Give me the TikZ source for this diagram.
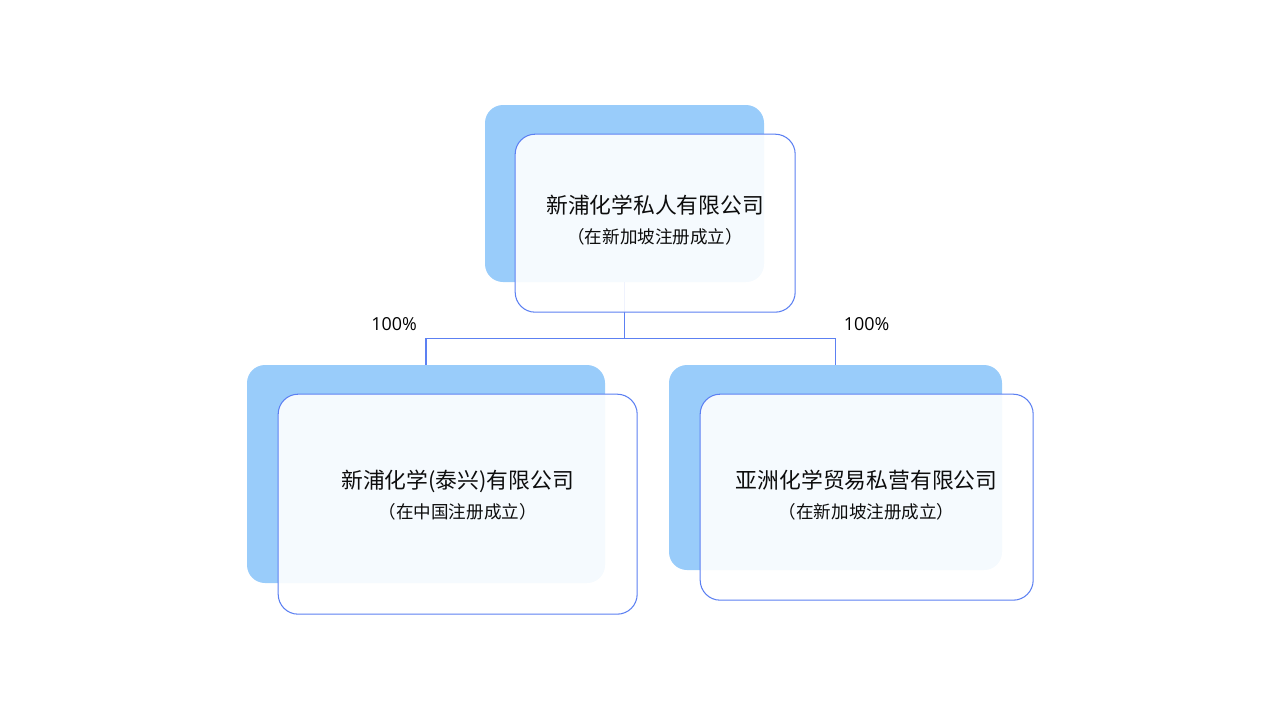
\documentclass[tikz,border=0pt]{standalone}
\usepackage{fontspec}
\setmainfont{Noto Sans CJK SC}
\newfontfamily\pctfont{Open Sans}
\usetikzlibrary{positioning, calc}
\definecolor{backblue}{HTML}{99CCFA}
\definecolor{lineblue}{HTML}{5C80F2}
\newcommand{\regfont}{\fontsize{10}{12}\selectfont}

\begin{document}
\begin{tikzpicture}[
    % Define styles
    backbox/.style={rectangle, fill=backblue, rounded corners=0.36cm},
    frontbox/.style={rectangle, draw=lineblue, line width=0.6pt, fill=white, fill opacity=0.9, rounded corners=0.4cm, anchor=north west},
    cname/.style={align=center, text=black!95, font=\fontsize{12.4}{17}\selectfont},
    link/.style={draw=lineblue, line width=0.6pt},
    pct/.style={text=black, font=\pctfont\fontsize{10.2}{12}\selectfont}
  ]
  \useasboundingbox (0,0) rectangle (25.6,-14.4);

  % Parent company
  \node[backbox, minimum width=5.58cm, minimum height=3.54cm] (topb) at (12.49,-3.87) {};

  % Subsidiaries
  \node[backbox, minimum width=7.16cm, minimum height=4.36cm] (leftb) at (8.52,-9.48) {};
  \node[backbox, minimum width=6.66cm, minimum height=4.1cm] (rightb) at (16.71,-9.35) {};

  % Ownership lines
  \coordinate (jn) at ($(topb.south)+(0,-1.12)$);
  \draw[link] (topb.south) -- (jn) -| (leftb.north);
  \draw[link] (jn) -| (rightb.north);
  \coordinate (jl) at (leftb.north |- jn);
  \coordinate (jr) at (rightb.north |- jn);
  \node[pct] (pctl) at ([xshift=-0.64cm, yshift=0.28cm]jl) {100\%};
  \node[pct] (pctr) at ([xshift=0.62cm, yshift=0.28cm]jr) {100\%};

  % Front panels
  \node[frontbox, minimum width=5.6cm, minimum height=3.56cm] (topf) at ([shift={(0.6,-0.58)}]topb.north west) {};
  \node[frontbox, minimum width=7.18cm, minimum height=4.4cm] (leftf) at ([shift={(0.62,-0.58)}]leftb.north west) {};
  \node[frontbox, minimum width=6.66cm, minimum height=4.12cm] (rightf) at ([shift={(0.62,-0.58)}]rightb.north west) {};

  % Company names
  \node[cname] (toptxt) at ([yshift=0.06cm]topf.center) {新浦化学私人有限公司\\{\regfont （在新加坡注册成立）}};
  \node[cname] (lefttxt) at ([yshift=0.19cm]leftf.center) {新浦化学(泰兴)有限公司\\{\regfont （在中国注册成立）}};
  \node[cname] (righttxt) at ([yshift=0.05cm]rightf.center) {亚洲化学贸易私营有限公司\\{\regfont （在新加坡注册成立）}};

\end{tikzpicture}
\end{document}
